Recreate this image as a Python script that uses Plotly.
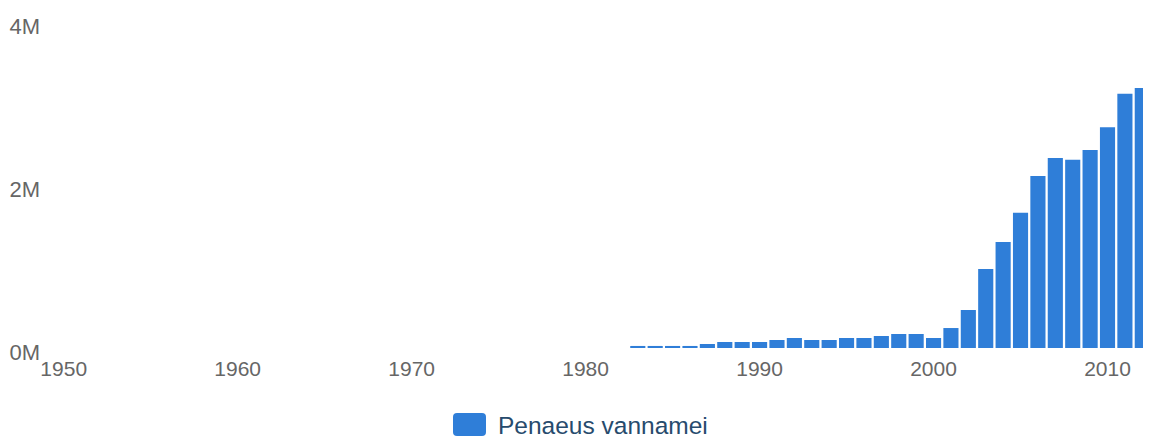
import plotly.graph_objects as go

# Data (tonnes)
years = list(range(1983, 2013))
production = [
    25000, 25000, 25000, 25000, 49000, 74000, 74000, 74000, 98000, 123000,
    98000, 98000, 123000, 123000, 147000, 172000, 172000, 123000, 245000, 466000,
    969000, 1300000, 1660000, 2110000, 2330000, 2310000, 2430000, 2710000, 3120000, 3190000,
]
series_name = "Penaeus vannamei"
y_tick_vals = [0, 2000000, 4000000]
y_tick_text = ["0M", "2M", "4M"]
x_tick_vals = [1950, 1960, 1970, 1980, 1990, 2000, 2010]

BAR_COLOR = "#2f7ed8"
FONT = "Liberation Sans, Arial, Helvetica, sans-serif"

# The page body has an 8px margin; compensate so the plot lands where the reference has it.
OFF = 8
PLOT_L, PLOT_T, PLOT_B = 55, 22, 348   # page pixels of the plot area
PLOT_W, PLOT_H = 1151 - PLOT_L, PLOT_B - PLOT_T

fig = go.Figure()
fig.add_trace(go.Bar(
    x=years, y=production, name=series_name,
    marker=dict(color=BAR_COLOR, line=dict(width=0)),
    showlegend=False,
))

fig.update_layout(
    width=1151 - OFF, height=439 - OFF,
    margin=dict(l=PLOT_L - OFF, r=0, t=PLOT_T - OFF, b=439 - PLOT_B, pad=0),
    paper_bgcolor="white", plot_bgcolor="white",
    bargap=0.13,
    font=dict(family=FONT, color="#666666", size=21),
    xaxis=dict(
        range=[1949.5, 2012.5], tickvals=x_tick_vals,
        showgrid=False, zeroline=False, showline=False, ticks="",
        tickfont=dict(size=21, color="#666666"),
        ticklabelstandoff=6,
    ),
    yaxis=dict(
        range=[0, 4000000], tickvals=y_tick_vals, ticktext=y_tick_text,
        showgrid=False, zeroline=False, showline=False, ticks="",
        tickfont=dict(size=22, color="#666666"),
        ticklabelstandoff=14, ticklabelshift=4,
    ),
)

# Custom legend: rounded swatch + label (page pixel positions relative to the plot's bottom-left)
sx0, sx1, sy0, sy1 = 453, 486, 413, 436
r = 4
def P(x, y):
    return f"{x - PLOT_L},{PLOT_B - y}"
path = (f"M {P(sx0+r, sy0)} L {P(sx1-r, sy0)} Q {P(sx1, sy0)} {P(sx1, sy0+r)} "
        f"L {P(sx1, sy1-r)} Q {P(sx1, sy1)} {P(sx1-r, sy1)} L {P(sx0+r, sy1)} "
        f"Q {P(sx0, sy1)} {P(sx0, sy1-r)} L {P(sx0, sy0+r)} Q {P(sx0, sy0)} {P(sx0+r, sy0)} Z")
fig.add_shape(
    type="path", xref="paper", yref="paper",
    xsizemode="pixel", ysizemode="pixel",
    xanchor=0, yanchor=0, path=path,
    fillcolor=BAR_COLOR, line=dict(width=0),
)
fig.add_annotation(
    text=series_name, xref="paper", yref="paper",
    x=(496 - PLOT_L) / PLOT_W, y=-(425 - PLOT_B) / PLOT_H,
    xanchor="left", yanchor="middle", showarrow=False,
    font=dict(family=FONT, size=24.5, color="#274b6d"),
)

fig.write_html("out.html")
